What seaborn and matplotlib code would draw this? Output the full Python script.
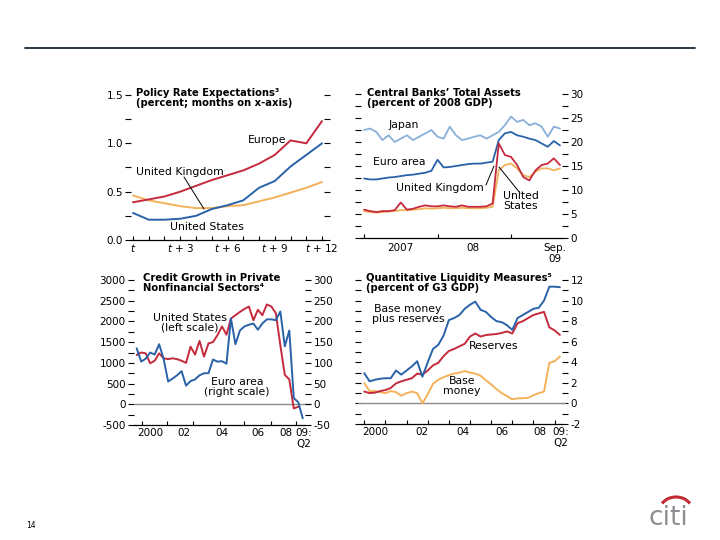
import numpy as np
import pandas as pd
import matplotlib
matplotlib.use("Agg")
import matplotlib.pyplot as plt
import seaborn as sns
from matplotlib.lines import Line2D
from matplotlib.patches import Arc
from matplotlib.ticker import MultipleLocator, FixedLocator, FixedFormatter, NullFormatter

# ---------------- data ----------------
# Policy rate expectations (months t .. t+12)
policy_months = list(range(13))
policy_europe = [0.39, 0.42, 0.45, 0.50, 0.56, 0.62, 0.67, 0.72, 0.79, 0.88, 1.03, 1.00, 1.23]
policy_us = [0.28, 0.21, 0.21, 0.22, 0.25, 0.32, 0.36, 0.41, 0.54, 0.61, 0.76, 0.88, 1.00]
policy_uk = [0.46, 0.41, 0.38, 0.35, 0.33, 0.33, 0.35, 0.36, 0.40, 0.44, 0.49, 0.54, 0.60]
policy_xticks = [0, 3, 6, 9, 12]
policy_xlabels = ["$t$", "$t$ + 3", "$t$ + 6", "$t$ + 9", "$t$ + 12"]

# Central banks' total assets (monthly, Jan 2007 .. Sep 2009)
assets_months = list(range(33))
assets_japan = [22.5, 22.8, 22.1, 20.4, 21.4, 20.0, 20.7, 21.4, 20.4, 21.1, 21.8, 22.5, 21.1,
                20.7, 23.2, 21.4, 20.4, 20.7, 21.1, 21.4, 20.7, 21.4, 22.1, 23.5, 25.3, 24.2,
                24.6, 23.5, 23.9, 23.2, 21.1, 23.2, 22.8]
assets_euro = [12.4, 12.2, 12.2, 12.4, 12.6, 12.7, 12.9, 13.1, 13.2, 13.4, 13.6, 14.0, 16.3,
               14.7, 14.8, 15.0, 15.2, 15.4, 15.5, 15.5, 15.7, 15.9, 20.4, 21.8, 22.1, 21.4,
               21.1, 20.7, 20.4, 19.7, 19.0, 20.2, 19.3]
assets_uk = [5.9, 5.6, 5.4, 5.6, 5.6, 5.8, 7.4, 5.9, 6.1, 6.5, 6.8, 6.6, 6.6, 6.8, 6.6, 6.5,
             6.8, 6.5, 6.5, 6.5, 6.6, 7.2, 19.7, 17.3, 16.9, 15.2, 12.7, 12.0, 14.1, 15.2,
             15.5, 16.6, 15.2]
assets_us = [5.6, 5.4, 5.3, 5.4, 5.5, 5.6, 5.8, 5.8, 5.9, 6.0, 6.2, 6.1, 6.2, 6.3, 6.2, 6.2,
             6.3, 6.2, 6.2, 6.2, 6.3, 6.5, 14.1, 15.2, 15.5, 14.5, 13.1, 12.7, 13.8, 14.5,
             14.5, 14.1, 14.5]
assets_xticks = [5.9, 17.8, 31.2]
assets_xlabels = ["2007", "08", "Sep.\n09"]

# Credit growth (quarterly, 2000:Q1 .. 2009:Q2)
credit_quarters = list(range(38))
credit_us = [1190, 1250, 1230, 990, 1050, 1230, 1110, 1090, 1110, 1090, 1050, 1000, 1390,
             1200, 1530, 1150, 1470, 1500, 1670, 1880, 1680, 2070, 2150, 2230, 2300, 2360,
             2030, 2280, 2150, 2410, 2360, 2200, 1430, 710, 600, -100, -60, np.nan]
credit_euro = [135, 103, 110, 125, 120, 145, 110, 55, 62, 70, 80, 45, 56, 60, 70, 75, 75,
               108, 103, 104, 98, 207, 145, 178, 188, 192, 195, 180, 195, 205, 205, 203,
               224, 140, 178, 15, 5, -34]
credit_xticks = [3.0, 10.5, 19.0, 27.0, 33.3, 37.3]
credit_xlabels = ["2000", "02", "04", "06", "08", "09:\nQ2"]

# Quantitative liquidity measures (quarterly, 2000:Q1 .. 2009:Q2)
liq_quarters = list(range(38))
liq_base_plus_res = [2.94, 2.15, 2.3, 2.4, 2.45, 2.45, 3.2, 2.8, 3.2, 3.6, 4.1, 2.6, 4.0,
                     5.3, 5.7, 6.6, 8.1, 8.3, 8.6, 9.2, 9.6, 9.9, 9.1, 8.9, 8.4, 8.0, 7.9,
                     7.6, 7.15, 8.3, 8.6, 8.9, 9.2, 9.3, 10.0, 11.35, 11.35, 11.3]
liq_reserves = [1.16, 1.0, 1.05, 1.2, 1.3, 1.5, 1.95, 2.15, 2.3, 2.45, 2.9, 2.8, 3.2, 3.7,
                3.95, 4.6, 5.1, 5.3, 5.55, 5.8, 6.5, 6.8, 6.5, 6.65, 6.7, 6.75, 6.85, 7.0,
                6.8, 7.8, 8.0, 8.3, 8.6, 8.75, 8.9, 7.4, 7.1, 6.66]
liq_base = [1.97, 1.2, 1.2, 1.1, 1.0, 1.2, 1.1, 0.75, 1.0, 1.15, 1.0, 0.0, 0.9, 1.9, 2.3,
            2.55, 2.75, 2.9, 3.0, 3.15, 3.0, 2.9, 2.7, 2.25, 1.85, 1.4, 1.0, 0.7, 0.4, 0.5,
            0.5, 0.55, 0.8, 1.0, 1.15, 3.95, 4.1, 4.56]
liq_xticks = [2.0, 10.9, 18.6, 26.0, 33.3, 37.2]
liq_xlabels = ["2000", "02", "04", "06", "08", "09:\nQ2"]

# ---------------- style ----------------
RED = "#c42a3c"
BLUE = "#2a62a8"
ORANGE = "#f3b25a"
LIGHTBLUE = "#89b0d8"

sns.set_theme(style="white")
plt.rcParams["font.family"] = ["DejaVu Sans"]
plt.rcParams["axes.unicode_minus"] = False
plt.rcParams["mathtext.fontset"] = "dejavusans"

W, H = 720, 540
TICK_FS = 7.5
ANN_FS = 7.8
TITLE_FS = 7.2


def ax_rect(l, t, r, b):
    return [l / W, 1 - b / H, (r - l) / W, (b - t) / H]


def fx(x):
    return x / W


def fy(y):
    return 1 - y / H


def style(ax, label_side, ymaj, ymin, xmajor, xlabpos, xlabels, xpad):
    for s in ["left", "right", "top"]:
        ax.spines[s].set_visible(False)
    ax.spines["bottom"].set_color("black")
    ax.spines["bottom"].set_linewidth(0.9)
    ax.yaxis.set_major_locator(MultipleLocator(ymaj))
    ax.yaxis.set_minor_locator(MultipleLocator(ymin))
    ax.tick_params(axis="y", which="both", direction="out", length=4, width=0.8,
                   color="black", left=label_side in ("left", "both_left"),
                   right=label_side in ("right", "both_left"),
                   labelleft=label_side in ("left", "both_left"),
                   labelright=label_side == "right",
                   labelsize=TICK_FS, pad=2, labelcolor="black")
    ax.xaxis.remove_overlapping_locs = False
    ax.xaxis.set_major_locator(FixedLocator(xmajor))
    ax.xaxis.set_major_formatter(NullFormatter())
    ax.xaxis.set_minor_locator(FixedLocator(xlabpos))
    ax.xaxis.set_minor_formatter(FixedFormatter(xlabels))
    ax.tick_params(axis="x", which="major", direction="in", length=3, width=0.8,
                   color="black", bottom=True, top=False)
    ax.tick_params(axis="x", which="minor", length=0, bottom=True, top=False,
                   labelsize=TICK_FS, pad=xpad, labelcolor="black")
    ax.set_xlabel("")
    ax.set_ylabel("")
    ax.grid(False)
    ax.set_facecolor("none")


def long_df(x, series):
    frames = []
    for name, vals in series.items():
        frames.append(pd.DataFrame({"x": x, "y": vals, "series": name}))
    return pd.concat(frames, ignore_index=True)


fig = plt.figure(figsize=(7.2, 5.4), dpi=100)
fig.patch.set_facecolor("white")

# ---------- top-left: policy rate expectations ----------
ax1 = fig.add_axes(ax_rect(131.4, 95, 323.6, 240))
df1 = long_df(policy_months, {"United Kingdom": policy_uk, "United States": policy_us,
                              "Europe": policy_europe})
sns.lineplot(data=df1, x="x", y="y", hue="series",
             hue_order=["United Kingdom", "United States", "Europe"],
             palette={"United Kingdom": ORANGE, "United States": BLUE, "Europe": RED},
             linewidth=1.4, legend=False, ax=ax1)
ax1.set_xlim(-0.1, 12.1)
ax1.set_ylim(0, 1.5)
style(ax1, "both_left", 0.5, 0.25, policy_months, policy_xticks, policy_xlabels, 1.5)
ax1.yaxis.set_major_formatter(matplotlib.ticker.FormatStrFormatter("%.1f"))
ax1.tick_params(axis="y", which="both", right=True)

# ---------- top-right: central bank assets ----------
ax2 = fig.add_axes(ax_rect(361, 94, 562, 238))
df2 = long_df(assets_months, {"Japan": assets_japan, "Euro area": assets_euro,
                              "United States": assets_us, "United Kingdom": assets_uk})
sns.lineplot(data=df2, x="x", y="y", hue="series",
             hue_order=["Japan", "Euro area", "United States", "United Kingdom"],
             palette={"Japan": LIGHTBLUE, "Euro area": BLUE, "United States": ORANGE,
                      "United Kingdom": RED},
             linewidth=1.3, legend=False, ax=ax2)
ax2.set_xlim(-0.5, 32.33)
ax2.set_ylim(0, 30)
style(ax2, "right", 5, 2.5, [0, 12, 24], assets_xticks, assets_xlabels, 3.5)
ax2.tick_params(axis="y", which="both", left=True)

# ---------- bottom-left: credit growth ----------
ax3 = fig.add_axes(ax_rect(134, 280, 305, 425))
ax3.axhline(0, xmin=0, xmax=1.03, color="#8a8a8a", lw=1.0, clip_on=False, zorder=1)
df3a = pd.DataFrame({"x": credit_quarters, "y": credit_us})
sns.lineplot(data=df3a, x="x", y="y", color=RED, linewidth=1.4, ax=ax3)
ax3.set_xlim(-0.6, 37.5)
ax3.set_ylim(-500, 3000)
style(ax3, "left", 500, 250, [1.2, 6.8, 12.5, 18.5, 24, 30, 35.6], credit_xticks,
      credit_xlabels, 2)
ax3.tick_params(axis="y", which="both", right=False)
ax3b = ax3.twinx()
df3b = pd.DataFrame({"x": credit_quarters, "y": credit_euro})
sns.lineplot(data=df3b, x="x", y="y", color=BLUE, linewidth=1.4, ax=ax3b)
ax3b.set_ylim(-50, 300)
for s in ["left", "right", "top", "bottom"]:
    ax3b.spines[s].set_visible(False)
ax3b.yaxis.set_major_locator(MultipleLocator(50))
ax3b.yaxis.set_minor_locator(MultipleLocator(25))
ax3b.tick_params(axis="y", which="both", direction="out", length=4, width=0.8,
                 color="black", left=False, right=True, labelright=True,
                 labelsize=TICK_FS, pad=2, labelcolor="black")
ax3b.set_ylabel("")
ax3b.grid(False)

# ---------- bottom-right: liquidity measures ----------
ax4 = fig.add_axes(ax_rect(361, 280, 562, 424))
ax4.axhline(0, xmin=-0.015, xmax=1.015, color="#8a8a8a", lw=1.0, clip_on=False, zorder=1)
df4 = long_df(liq_quarters, {"Base money": liq_base, "Reserves": liq_reserves,
                             "Base money plus reserves": liq_base_plus_res})
sns.lineplot(data=df4, x="x", y="y", hue="series",
             hue_order=["Base money", "Reserves", "Base money plus reserves"],
             palette={"Base money": ORANGE, "Reserves": RED,
                      "Base money plus reserves": BLUE},
             linewidth=1.4, legend=False, ax=ax4)
ax4.set_xlim(-0.62, 37.4)
ax4.set_ylim(-2, 12)
style(ax4, "right", 2, 1, list(range(0, 38, 4)), liq_xticks, liq_xlabels, 2)
ax4.tick_params(axis="y", which="both", left=True)

# ---------- titles ----------
def title(x, y, s):
    fig.text(fx(x), fy(y), s, ha="left", va="top", fontsize=TITLE_FS,
             fontweight="bold", linespacing=1.02, color="black")


title(136, 88, "Policy Rate Expectations\u00b3\n(percent; months on x-axis)")
title(367, 88, "Central Banks\u2019 Total Assets\n(percent of 2008 GDP)")
title(143, 273, "Credit Growth in Private\nNonfinancial Sectors\u2074")
title(366, 273, "Quantitative Liquidity Measures\u2075\n(percent of G3 GDP)")

# ---------- annotations ----------
def ann(x, y, s):
    fig.text(fx(x), fy(y), s, ha="center", va="center", fontsize=ANN_FS,
             linespacing=1.0, color="black")


def pointer(x1, y1, x2, y2):
    fig.add_artist(Line2D([fx(x1), fx(x2)], [fy(y1), fy(y2)], color="black", lw=0.7))


ann(267, 140, "Europe")
ann(180, 172, "United Kingdom")
ann(207, 227, "United States")
pointer(184, 177, 204, 209)

ann(404, 125, "Japan")
ann(399, 162, "Euro area")
ann(440, 188, "United Kingdom")
ann(521, 201, "United\nStates")
pointer(486, 185, 494, 166)
pointer(520, 193, 499, 167)

ann(190, 323, "United States\n(left scale)")
ann(237, 387, "Euro area\n(right scale)")

ann(408, 314, "Base money\nplus reserves")
ann(494, 346, "Reserves")
ann(462, 386, "Base\nmoney")

# ---------- page decorations ----------
fig.add_artist(Line2D([fx(25), fx(695)], [fy(48), fy(48)], color="#1b2836", lw=1.3))
fig.text(fx(31), fy(526), "14", ha="center", va="center", fontsize=5.5, color="black")

axl = fig.add_axes(ax_rect(640, 490, 700, 530))
axl.set_xlim(640, 700)
axl.set_ylim(530, 490)
axl.axis("off")
axl.add_patch(Arc((676, 510), 32, 26, theta1=205, theta2=335, color="#c32a32", lw=2.2))
axl.text(668, 525, "citi", ha="center", va="baseline", fontsize=19, color="#8c8f93")

fig.savefig("out.png", dpi=100)
